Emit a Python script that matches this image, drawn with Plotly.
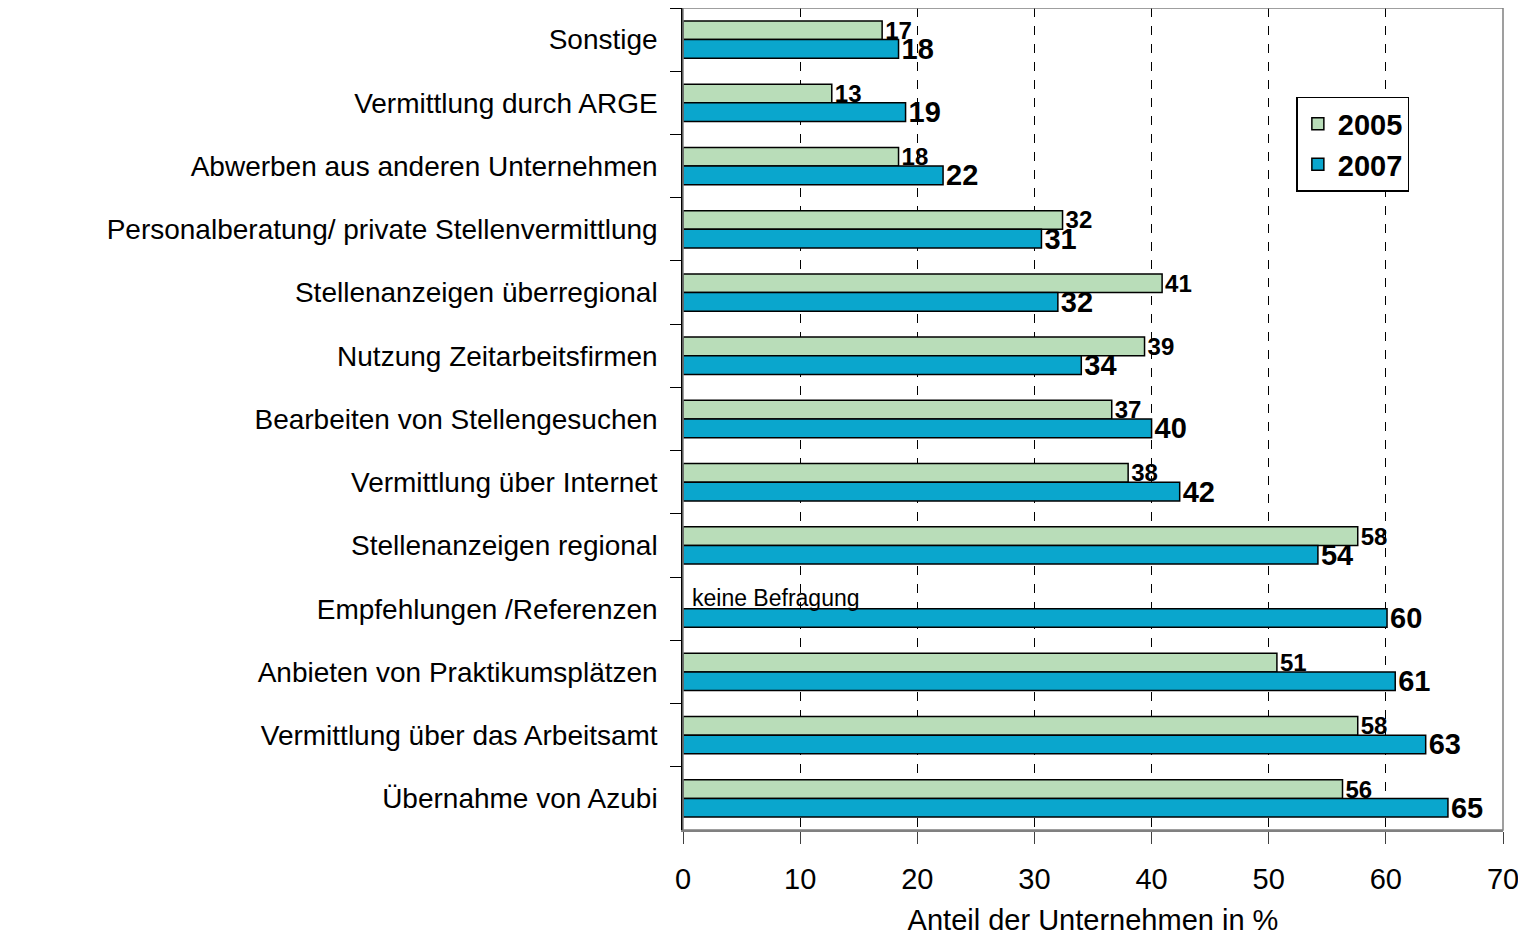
import plotly.graph_objects as go

# categories, top to bottom as in the chart
kategorien = [
    'Sonstige',
    'Vermittlung durch ARGE',
    'Abwerben aus anderen Unternehmen',
    'Personalberatung/ private Stellenvermittlung',
    'Stellenanzeigen überregional',
    'Nutzung Zeitarbeitsfirmen',
    'Bearbeiten von Stellengesuchen',
    'Vermittlung über Internet',
    'Stellenanzeigen regional',
    'Empfehlungen /Referenzen',
    'Anbieten von Praktikumsplätzen',
    'Vermittlung über das Arbeitsamt',
    'Übernahme von Azubi',
]

werte_2005 = [17.0, 12.7, 18.4, 32.4, 40.9, 39.4, 36.6, 38.0, 57.6, None, 50.7, 57.6, 56.3]
werte_2007 = [18.4, 19.0, 22.2, 30.6, 32.0, 34.0, 40.0, 42.4, 54.2, 60.1, 60.8, 63.4, 65.3]

text_2005 = ['17', '13', '18', '32', '41', '39', '37', '38', '58', '', '51', '58', '56']
text_2007 = ['18', '19', '22', '31', '32', '34', '40', '42', '54', '60', '61', '63', '65']

schrift = 'Liberation Sans, Arial, sans-serif'

fig = go.Figure()

fig.add_trace(go.Bar(
    name='2005', y=kategorien, x=werte_2005, orientation='h',
    marker=dict(color='#b9ddb9', line=dict(color='black', width=1.5)),
    text=text_2005, textposition='outside', constraintext='none', cliponaxis=False,
    textfont=dict(family=schrift, size=24, color='black', weight='bold'),
))
fig.add_trace(go.Bar(
    name='2007', y=kategorien, x=werte_2007, orientation='h',
    marker=dict(color='#0aa6cd', line=dict(color='black', width=1.5)),
    text=text_2007, textposition='outside', constraintext='none', cliponaxis=False,
    textfont=dict(family=schrift, size=29, color='black', weight='bold'),
))

fig.add_annotation(
    x=0.6, y='Empfehlungen /Referenzen', text='keine Befragung',
    xanchor='left', yanchor='middle', yshift=11, showarrow=False,
    font=dict(family=schrift, size=23, color='black'),
)

# plot frame
fig.add_shape(type='rect', xref='paper', yref='paper', x0=0, y0=0, x1=1, y1=1,
              line=dict(color='#808080', width=1.5))

# page body adds an 8px offset, so the figure is 8px smaller
fig.update_layout(
    width=1518, height=928,
    margin=dict(l=675, r=23, t=0, b=106),
    paper_bgcolor='white', plot_bgcolor='white',
    barmode='group', bargap=0.41, bargroupgap=0,
    font=dict(family=schrift, size=28, color='black'),
    showlegend=True,
    legend=dict(
        x=0.748, y=0.892, xanchor='left', yanchor='top',
        traceorder='normal', bgcolor='white', tracegroupgap=4,
        bordercolor='black', borderwidth=1.5,
        font=dict(family=schrift, size=29, color='black', weight='bold'),
    ),
    xaxis=dict(
        range=[0, 70], dtick=10, tick0=0,
        showgrid=True, gridcolor='black', griddash='dash', gridwidth=1,
        zeroline=False, showline=True, linecolor='#808080', linewidth=1.5,
        ticks='outside', ticklen=12, tickcolor='#404040',
        ticklabelstandoff=10,
        tickfont=dict(size=29),
        title=dict(text='Anteil der Unternehmen in %', font=dict(size=29), standoff=16),
        automargin=False,
    ),
    yaxis=dict(
        autorange='reversed',
        showline=True, linecolor='black', linewidth=1.5,
        ticks='outside', ticklen=11, tickcolor='black', tickson='boundaries',
        ticklabelstandoff=18,
        tickfont=dict(size=28),
        showgrid=False, automargin=False,
    ),
)

fig.write_html('out.html')
